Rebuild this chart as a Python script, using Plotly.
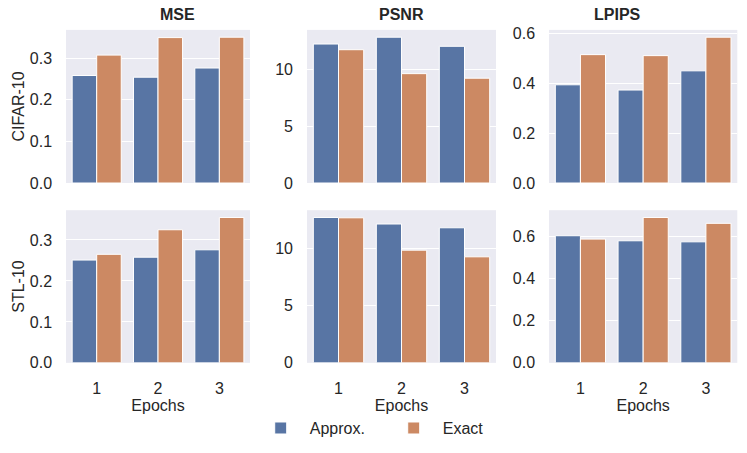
from plotly.subplots import make_subplots
import plotly.graph_objects as go

# values
epochs = ["1", "2", "3"]
metrics = ["MSE", "PSNR", "LPIPS"]
datasets = ["CIFAR-10", "STL-10"]

cifar_mse_approx = [0.258, 0.254, 0.276]
cifar_mse_exact = [0.307, 0.349, 0.350]
cifar_psnr_approx = [12.2, 12.8, 12.0]
cifar_psnr_exact = [11.7, 9.6, 9.2]
cifar_lpips_approx = [0.394, 0.373, 0.450]
cifar_lpips_exact = [0.515, 0.511, 0.585]

stl_mse_approx = [0.251, 0.258, 0.276]
stl_mse_exact = [0.265, 0.325, 0.355]
stl_psnr_approx = [12.67, 12.1, 11.77]
stl_psnr_exact = [12.64, 9.82, 9.24]
stl_lpips_approx = [0.605, 0.581, 0.576]
stl_lpips_exact = [0.589, 0.692, 0.664]

panels = [
    [(cifar_mse_approx, cifar_mse_exact),
     (cifar_psnr_approx, cifar_psnr_exact),
     (cifar_lpips_approx, cifar_lpips_exact)],
    [(stl_mse_approx, stl_mse_exact),
     (stl_psnr_approx, stl_psnr_exact),
     (stl_lpips_approx, stl_lpips_exact)],
]

BLUE = "#5875A4"
ORANGE = "#CC8963"
TXT = "#262626"
FONT = "Liberation Sans, Arial, sans-serif"
FS = 16

x_domains = [(0.0884, 0.3347), (0.411, 0.664), (0.735, 0.987)]
y_domains = [(0.596, 0.934), (0.199, 0.536)]
dticks = [0.1, 5, 0.2]
fmts = [".1f", "d", ".1f"]

fig = make_subplots(rows=2, cols=3)

for r in range(2):
    for c in range(3):
        approx, exact = panels[r][c]
        first = (r == 0 and c == 0)
        fig.add_trace(go.Bar(x=epochs, y=approx, name="Approx.",
                             marker=dict(color=BLUE, line=dict(color="white", width=1)),
                             showlegend=first, legendgroup="a"),
                      row=r + 1, col=c + 1)
        fig.add_trace(go.Bar(x=epochs, y=exact, name="Exact",
                             marker=dict(color=ORANGE, line=dict(color="white", width=1)),
                             showlegend=first, legendgroup="e"),
                      row=r + 1, col=c + 1)
        top = max(approx + exact) * 1.05
        fig.update_yaxes(domain=y_domains[r], range=[0, top], dtick=dticks[c],
                         tickformat=fmts[c], showgrid=True, gridcolor="white",
                         gridwidth=1.3, zeroline=False, showline=False,
                         ticks="", ticklabelstandoff=13, automargin=False,
                         tickfont=dict(size=FS, color=TXT, family=FONT),
                         row=r + 1, col=c + 1)
        fig.update_xaxes(domain=x_domains[c], range=[-0.5, 2.5], showgrid=False,
                         zeroline=False, showline=False, ticks="",
                         showticklabels=(r == 1), ticklabelstandoff=14,
                         automargin=False,
                         tickfont=dict(size=FS, color=TXT, family=FONT),
                         row=r + 1, col=c + 1)
        if r == 1:
            fig.update_xaxes(title=dict(text="Epochs", standoff=2,
                                        font=dict(size=FS, color=TXT, family=FONT)),
                             row=r + 1, col=c + 1)
        if c == 0:
            fig.update_yaxes(title=dict(text=datasets[r], standoff=1,
                                        font=dict(size=FS, color=TXT, family=FONT)),
                             row=r + 1, col=c + 1)

for c, m in enumerate(metrics):
    fig.add_annotation(text="<b>%s</b>" % m, xref="paper", yref="paper",
                       x=sum(x_domains[c]) / 2, y=0.969, yanchor="middle",
                       showarrow=False,
                       font=dict(size=FS, color=TXT, family=FONT))

fig.update_layout(
    width=747, height=453,
    margin=dict(l=0, r=0, t=0, b=0),
    paper_bgcolor="white",
    plot_bgcolor="#EAEAF2",
    barmode="group", bargap=0.2, bargroupgap=0,
    font=dict(family=FONT, color=TXT, size=FS),
    legend=dict(orientation="h", x=0.515, xanchor="center", y=0.055, yanchor="middle",
                font=dict(size=FS, color=TXT, family=FONT), itemwidth=48,
                traceorder="normal", entrywidthmode="pixels", entrywidth=70),
)

# page body has a default 8px margin; drop it so the figure sits at 0,0
fig.write_html("out.html", config={"displayModeBar": False},
               post_script="document.body.style.margin='0px';")
